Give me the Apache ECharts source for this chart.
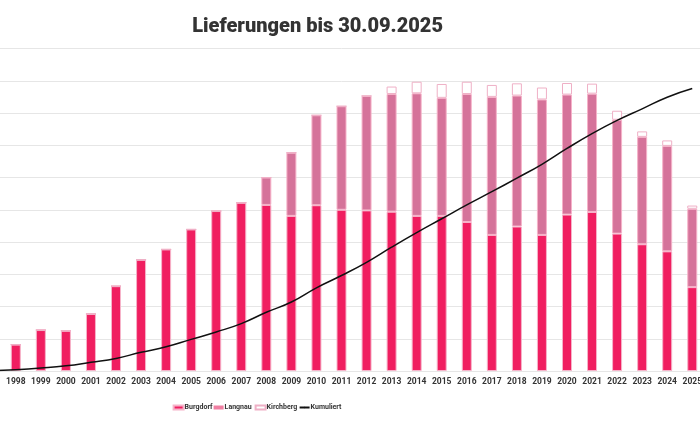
<!DOCTYPE html>
<html>
<head>
<meta charset="utf-8">
<script src="https://cdn.jsdelivr.net/npm/echarts@6/dist/echarts.min.js"></script>
<style>html,body{margin:0;padding:0;background:#fff;overflow:hidden;width:700px;height:429px}#c{position:absolute;left:-21.6px;top:0;width:726.8px;height:429px}</style>
</head>
<body>
<div id="c"></div>
<script>
const years = ['1997','1998','1999','2000','2001','2002','2003','2004','2005','2006','2007','2008','2009','2010','2011','2012','2013','2014','2015','2016','2017','2018','2019','2020','2021','2022','2023','2024','2025'];
const burgdorf = [3, 8.2, 12.7, 12.5, 17.7, 26.3, 34.5, 37.7, 43.9, 49.6, 52.2, 51.5, 48.1, 51.4, 50.0, 49.8, 49.4, 48.1, 48.1, 46.2, 42.2, 44.8, 42.2, 48.5, 49.3, 42.6, 39.3, 37.1, 26.0];
const langnau = [0, 0, 0, 0, 0, 0, 0, 0, 0, 0, 0, 8.5, 19.6, 27.9, 32.1, 35.5, 36.5, 38.0, 36.6, 39.7, 42.8, 40.6, 42.0, 37.2, 36.7, 35.3, 33.3, 32.7, 24.3];
const kirchberg = [0, 0, 0, 0, 0, 0, 0, 0, 0, 0, 0, 0, 0, 0, 0, 0, 2.3, 3.6, 4.3, 3.8, 3.7, 3.8, 3.7, 3.6, 3.1, 2.8, 1.7, 1.7, 1.0];
const kumuliert = [2, 8, 18, 32, 54, 78, 116, 150, 196, 242, 294, 364, 428, 516, 592, 674, 768, 858, 944, 1030, 1112, 1196, 1282, 1380, 1472, 1554, 1626, 1698, 1752];
const title = 'Lieferungen bis 30.09.2025';
const seriesNames = ['Burgdorf', 'Langnau', 'Kirchberg', 'Kumuliert'];

const OFF = 21.6;
const chart = echarts.init(document.getElementById('c'));
const barBorder = '#F6B3C9';
const legendLeft = [178, 219, 260, 304];
const legendStyle = { fontFamily: 'Roboto', fontWeight: 'bold', fontSize: 7, color: '#333', padding: [0,0,0,-4] };
const legends = seriesNames.map((n, i) => ({
  left: legendLeft[i] + OFF - 5, top: 404, padding: 0,
  itemWidth: 10, itemHeight: i === 3 ? 2 : 4,
  textStyle: legendStyle,
  data: [ i === 1 ? { name: n, icon: 'rect', itemStyle: { color: '#F07FA2', borderWidth: 0 } }
        : i === 3 ? { name: n } : { name: n, icon: 'rect' } ]
}));
chart.setOption({
  animation: false,
  title: {
    text: title,
    left: 313 + OFF, top: 12, textAlign: 'center',
    textStyle: { fontFamily: 'Roboto', fontWeight: 900, fontSize: 20, color: '#333' }
  },
  legend: legends,
  grid: { left: 0, right: 0, top: 48.5, bottom: 58, containLabel: false },
  xAxis: {
    type: 'category', data: years,
    axisLine: { show: true, lineStyle: { color: '#e6e6e6' } },
    axisTick: { show: false },
    axisLabel: { interval: 0, fontFamily: 'Roboto', fontWeight: 'bold', fontSize: 8.5, color: '#333', margin: 6 }
  },
  yAxis: [
    { type: 'value', min: 0, max: 100, interval: 10, axisLabel: { show: false },
      splitLine: { lineStyle: { color: '#e6e6e6', width: 1 } } },
    { type: 'value', min: 0, max: 2000, interval: 200, axisLabel: { show: false }, splitLine: { show: false } }
  ],
  series: [
    { name: seriesNames[0], type: 'bar', stack: 'a', barWidth: 10, data: burgdorf,
      itemStyle: { color: '#F01E60', borderColor: barBorder, borderWidth: 1 } },
    { name: seriesNames[1], type: 'bar', stack: 'a', barWidth: 10, data: langnau,
      itemStyle: { color: '#D5739A', borderColor: barBorder, borderWidth: 1 } },
    { name: seriesNames[2], type: 'bar', stack: 'a', barWidth: 10, data: kirchberg,
      itemStyle: { color: '#ffffff', borderColor: '#EFB0C6', borderWidth: 1 } },
    { name: seriesNames[3], type: 'line', yAxisIndex: 1, data: kumuliert, smooth: true,
      symbol: 'none', lineStyle: { color: '#111', width: 1.5 }, itemStyle: { color: '#111' }, z: 5 }
  ]
});
</script>
</body>
</html>
